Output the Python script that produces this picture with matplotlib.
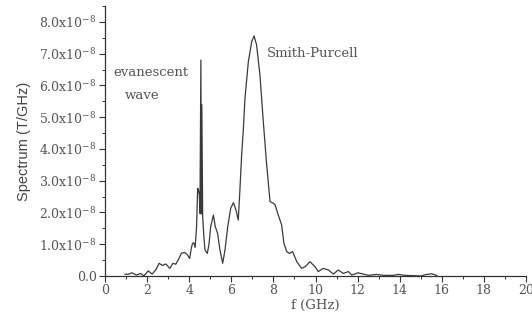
import matplotlib
matplotlib.use("Agg")
import matplotlib.pyplot as plt
from matplotlib.ticker import MultipleLocator, FixedLocator, FuncFormatter

# frequency (GHz) and spectrum (units of 1e-8 T/GHz)
freq = [0.95, 1.10, 1.27, 1.50, 1.69, 1.85, 2.05, 2.24, 2.42, 2.57, 2.73, 2.89,
        3.08, 3.23, 3.36, 3.52, 3.63, 3.79, 3.92, 4.02, 4.10, 4.16, 4.22, 4.28,
        4.35, 4.40, 4.44, 4.48, 4.51, 4.555, 4.575, 4.60, 4.64, 4.70, 4.75, 4.86,
        4.94, 5.02, 5.15, 5.24, 5.35, 5.46, 5.59, 5.70, 5.83, 5.97, 6.10, 6.22,
        6.33, 6.40, 6.49, 6.57, 6.65, 6.81, 6.97, 7.08, 7.20, 7.36, 7.52, 7.68,
        7.84, 8.00, 8.08, 8.23, 8.39, 8.50, 8.63, 8.76, 8.91, 9.11, 9.34, 9.50,
        9.74, 9.98, 10.13, 10.37, 10.61, 10.85, 11.08, 11.32, 11.56, 11.72, 12.03,
        12.27, 12.51, 12.90, 13.22, 13.70, 13.93, 14.25, 14.65, 15.00, 15.28,
        15.52, 15.76]
spec = [0.06, 0.05, 0.10, 0.03, 0.08, 0.00, 0.16, 0.06, 0.20, 0.40, 0.33, 0.38,
        0.24, 0.40, 0.37, 0.56, 0.72, 0.74, 0.66, 0.55, 0.88, 1.03, 1.04, 0.90,
        1.55, 2.76, 2.70, 2.55, 1.97, 6.80, 1.95, 5.39, 1.87, 1.20, 0.82, 0.71,
        1.00, 1.55, 1.92, 1.55, 1.34, 0.82, 0.40, 0.82, 1.55, 2.13, 2.31, 2.08,
        1.76, 2.60, 3.80, 4.60, 5.60, 6.75, 7.38, 7.56, 7.28, 6.33, 4.86, 3.50,
        2.34, 2.29, 2.24, 1.92, 1.61, 1.03, 0.77, 0.71, 0.77, 0.45, 0.24, 0.29,
        0.45, 0.29, 0.14, 0.24, 0.19, 0.06, 0.19, 0.08, 0.14, 0.03, 0.10,
        0.06, 0.02, 0.05, 0.02, 0.02, 0.05, 0.02, 0.01, 0.00, 0.05,
        0.07, 0.02]

y_ticks = [0, 1, 2, 3, 4, 5, 6, 7, 8]          # units of 1e-8
x_ticks = [0, 2, 4, 6, 8, 10, 12, 14, 16, 18, 20]

plt.rcParams['mathtext.fontset'] = 'dejavuserif'
serif = 'DejaVu Serif'
txtc = '#555555'

fig = plt.figure(figsize=(5.32, 3.25), dpi=100)
ax = fig.add_axes([0.1974, 0.1508, 0.7913, 0.8307])
ax.plot(freq, [v * 1e-8 for v in spec], color='#3a3a3a', lw=0.9)

ax.set_xlim(0, 20)
ax.set_ylim(0, 8.5e-8)
for s in ['top', 'right']:
    ax.spines[s].set_visible(False)
for s in ['left', 'bottom']:
    ax.spines[s].set_color('#333333')
    ax.spines[s].set_linewidth(0.9)

ax.xaxis.set_major_locator(FixedLocator(x_ticks))
ax.xaxis.set_minor_locator(MultipleLocator(1))
ax.yaxis.set_major_locator(FixedLocator([t * 1e-8 for t in y_ticks]))
ax.yaxis.set_minor_locator(FixedLocator([(t + 0.5) * 1e-8 for t in y_ticks]))

def yfmt(v, pos):
    n = round(v * 1e8, 1)
    if n == 0:
        return '0.0'
    return '%.1fx10$^{-8}$' % n

ax.xaxis.set_major_formatter(FuncFormatter(lambda v, p: '%d' % round(v)))
ax.yaxis.set_major_formatter(FuncFormatter(yfmt))
ax.tick_params(which='major', direction='out', length=4, width=0.8,
               color='#333333', labelcolor=txtc, labelsize=9, pad=2)
ax.tick_params(which='minor', direction='out', length=2.5, width=0.7,
               color='#333333')
for lab in ax.get_xticklabels() + ax.get_yticklabels():
    lab.set_family(serif)

ax.set_xlabel('f (GHz)', family=serif, color=txtc, fontsize=9.5, labelpad=1)
ax.set_ylabel('Spectrum (T/GHz)', family='Liberation Sans', color='#444444',
              fontsize=10.5, labelpad=6)

ax.text(0.38, 6.4e-8, 'evanescent', family=serif, color=txtc, fontsize=9.5,
        ha='left', va='center')
ax.text(0.95, 5.67e-8, 'wave', family=serif, color=txtc, fontsize=9.5,
        ha='left', va='center')
ax.text(7.68, 7.0e-8, 'Smith-Purcell', family=serif, color=txtc, fontsize=9.5,
        ha='left', va='center')

fig.savefig('out.png', dpi=100)
